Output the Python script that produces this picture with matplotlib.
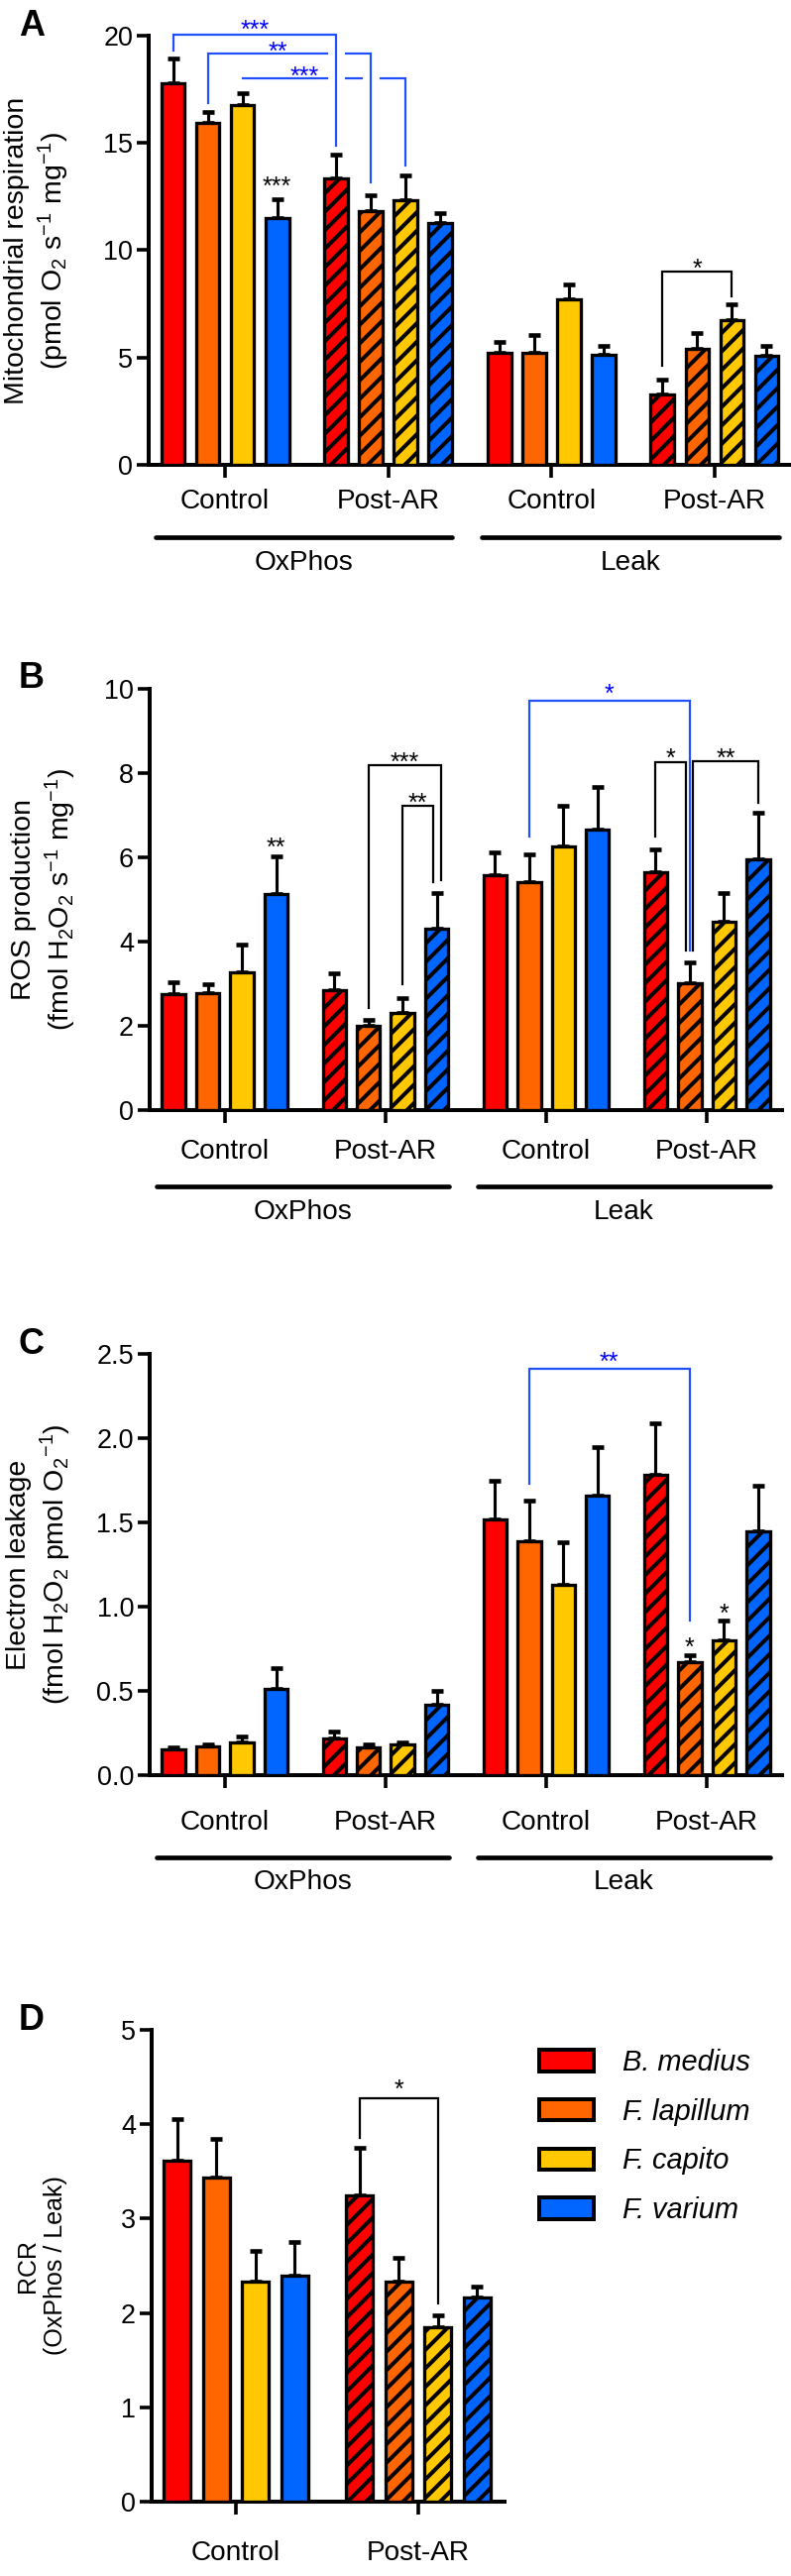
import matplotlib
matplotlib.use('Agg')
import matplotlib.pyplot as plt
from matplotlib.patches import Patch
from matplotlib.transforms import blended_transform_factory

DPI = 112
W, H = 798, 2599
PT = 72.0 / DPI  # points per pixel


def px(v):
    return v * PT


plt.rcParams['font.family'] = ['Liberation Sans', 'DejaVu Sans']
plt.rcParams['mathtext.fontset'] = 'custom'
plt.rcParams['mathtext.rm'] = 'Liberation Sans'
plt.rcParams['mathtext.default'] = 'regular'
plt.rcParams['hatch.linewidth'] = px(4.0)

# species / groups
species = ['B. medius', 'F. lapillum', 'F. capito', 'F. varium']
colors = ['#ff0000', '#ff6600', '#ffc800', '#0066ff']
group_names = ['Control', 'Post-AR', 'Control', 'Post-AR']
state_names = ['OxPhos', 'Leak']

# A - mitochondrial respiration (rows: OxPhos ctrl, OxPhos post, Leak ctrl, Leak post)
resp_mean = [[17.8, 15.93, 16.75, 11.48],
             [13.33, 11.82, 12.31, 11.29],
             [5.23, 5.23, 7.70, 5.14],
             [3.28, 5.41, 6.76, 5.07]]
resp_sem = [[1.15, 0.50, 0.55, 0.89],
            [1.15, 0.74, 1.19, 0.43],
            [0.52, 0.80, 0.70, 0.40],
            [0.71, 0.75, 0.70, 0.47]]

# B - ROS production
ros_mean = [[2.75, 2.78, 3.27, 5.14],
            [2.85, 1.99, 2.31, 4.31],
            [5.58, 5.41, 6.26, 6.65],
            [5.65, 3.01, 4.47, 5.95]]
ros_sem = [[0.29, 0.22, 0.65, 0.88],
           [0.39, 0.14, 0.36, 0.85],
           [0.54, 0.67, 0.96, 1.02],
           [0.55, 0.49, 0.69, 1.11]]

# C - electron leakage
leak_mean = [[0.153, 0.171, 0.196, 0.514],
             [0.220, 0.163, 0.182, 0.420],
             [1.52, 1.39, 1.13, 1.66],
             [1.78, 0.673, 0.80, 1.45]]
leak_sem = [[0.014, 0.010, 0.034, 0.123],
            [0.040, 0.017, 0.014, 0.080],
            [0.23, 0.24, 0.25, 0.29],
            [0.31, 0.037, 0.12, 0.27]]

# D - RCR
rcr_mean = [[3.61, 3.44, 2.33, 2.40],
            [3.25, 2.33, 1.85, 2.16]]
rcr_sem = [[0.44, 0.40, 0.33, 0.35],
           [0.50, 0.25, 0.12, 0.12]]

BLUE_LINE = '#1f4fff'
BLUE_TXT = '#0000ff'

# brackets: (group_a, sp_a, dx_a, group_b, sp_b, dx_b, top, end_a, end_b, label, text_x_shift, text_y, color, gaps)
sig_A = [(0, 0, 0, 1, 0, 0, 20.06, 19.3, 14.85, '***', 0.0, 20.6, 'b', []),
         (0, 1, 0, 1, 1, 0, 19.15, 16.86, 13.15, '**', -0.34, 19.57, 'b', [(1, 0)]),
         (0, 2, 0, 1, 2, 0, 18.0, 18.0, 13.95, '***', -0.55, 18.4, 'b', [(1, 0), (1, 1)]),
         (3, 0, 0, 3, 2, 0, 9.0, 4.64, 7.86, '*', 0.0, 9.43, 'k', [])]
star_A = [(0, 3, '***', 13.3)]

sig_B = [(1, 1, 0, 1, 3, 0.12, 8.19, 2.43, 5.45, '***', 0.0, 8.42, 'k', []),
         (1, 2, 0, 1, 3, -0.1, 7.22, 2.98, 5.41, '**', 0.0, 7.45, 'k', []),
         (2, 1, 0, 3, 1, 0, 9.72, 6.5, 3.8, '*', 0.0, 10.04, 'b', []),
         (3, 0, 0, 3, 1, -0.1, 8.26, 6.5, 3.8, '*', 0.0, 8.5, 'k', []),
         (3, 1, 0.1, 3, 3, 0, 8.28, 3.8, 7.3, '**', 0.0, 8.5, 'k', [])]
star_B = [(0, 3, '**', 6.39)]

sig_C = [(2, 1, 0, 3, 1, 0, 2.41, 1.73, 0.918, '**', 0.0, 2.49, 'b', [])]
star_C = [(3, 1, '*', 0.80), (3, 2, '*', 1.0)]

sig_D = [(1, 0, 0, 1, 2, 0, 4.28, 3.86, 2.1, '*', 0.0, 4.44, 'k', [])]
star_D = []

fig = plt.figure(figsize=(W / DPI, H / DPI), dpi=DPI)

STAR_FS = px(25)
TICK_FS = px(27)
LAB_FS = px(28)


def bar_x(g, i, gap):
    return g * gap + i - 1.5


def draw_panel(letter, L, R, top_px, zero_px, ymax, yticks, means, sems, gap, xlim,
               ylabel, ylab_x, ylab_fs, sigs, stars, lab_off, line_off, state_off, fmt=None):
    ax = fig.add_axes([L / W, 1 - zero_px / H, (R - L) / W, (zero_px - top_px) / H])
    hpx = zero_px - top_px
    ng = len(means)
    for g in range(ng):
        for i in range(4):
            x = bar_x(g, i, gap)
            ax.bar(x, means[g][i], width=0.68, color=colors[i], edgecolor='k',
                   linewidth=px(3.3), hatch='//' if g % 2 else None, zorder=3)
            ax.errorbar(x, means[g][i], yerr=[[0], [sems[g][i]]], fmt='none', ecolor='k',
                        elinewidth=px(3.1), capsize=px(5.5), capthick=px(4.6), zorder=2)
    ax.set_xlim(*xlim)
    ax.set_ylim(0, ymax)
    ax.set_yticks(yticks)
    if fmt:
        ax.set_yticklabels([fmt % t for t in yticks])
    centers = [g * gap for g in range(ng)]
    ax.set_xticks(centers)
    ax.set_xticklabels([])
    for s in ['top', 'right']:
        ax.spines[s].set_visible(False)
    for s in ['left', 'bottom']:
        ax.spines[s].set_linewidth(px(4.0))
    ax.tick_params(axis='y', direction='out', length=px(12), width=px(3.6),
                   labelsize=TICK_FS, pad=px(4))
    ax.tick_params(axis='x', direction='out', length=px(13), width=px(3.6))
    ax.patch.set_alpha(0)

    tr = blended_transform_factory(ax.transData, ax.transAxes)
    for g in range(ng):
        ax.text(centers[g], -lab_off / hpx, group_names[g], transform=tr,
                ha='center', va='center', fontsize=LAB_FS)
    if state_off is not None:
        for k in range(2):
            x0 = centers[2 * k] - 2.0
            x1 = centers[2 * k + 1] + 1.85
            ax.plot([x0, x1], [-line_off / hpx] * 2, color='k', lw=px(4.7),
                    solid_capstyle='round', transform=tr, clip_on=False)
            ax.text((x0 + x1) / 2, -state_off / hpx, state_names[k], transform=tr,
                    ha='center', va='center', fontsize=LAB_FS)

    for (ga, sa, dxa, gb, sb, dxb, topv, ea, eb, lab, tx, ty, col, gaps) in sigs:
        xa = bar_x(ga, sa, gap) + dxa
        xb = bar_x(gb, sb, gap) + dxb
        lc = BLUE_LINE if col == 'b' else 'k'
        tc = BLUE_TXT if col == 'b' else 'k'
        cuts = []
        for (gg, ss) in gaps:
            gx = bar_x(gg, ss, gap)
            cuts += [gx - 0.27, gx + 0.27]
        pts = [xa] + cuts + [xb]
        segs = list(zip(pts[0::2], pts[1::2]))
        for n, (s0, s1) in enumerate(segs):
            xs = [s0, s1]
            ys = [topv, topv]
            if n == 0:
                xs = [xa] + xs
                ys = [ea] + ys
            if n == len(segs) - 1:
                xs = xs + [xb]
                ys = ys + [eb]
            ax.plot(xs, ys, color=lc, lw=px(2.2), clip_on=False, zorder=4,
                    solid_joinstyle='miter')
        ax.annotate(lab, xy=((xa + xb) / 2 + tx, ty), xytext=(0, -0.58 * STAR_FS),
                    textcoords='offset points', ha='center', va='baseline',
                    fontsize=STAR_FS, color=tc, annotation_clip=False)
    for (g, i, lab, ty) in stars:
        ax.annotate(lab, xy=(bar_x(g, i, gap), ty), xytext=(0, -0.58 * STAR_FS),
                    textcoords='offset points', ha='center', va='baseline',
                    fontsize=STAR_FS, color='k', annotation_clip=False)

    fig.text(32 / W, 1 - (top_px - 10) / H, letter, fontsize=px(36), weight='bold',
             ha='center', va='center')
    fig.text(ylab_x / W, 1 - (top_px + zero_px) / 2 / H, ylabel, rotation=90,
             ha='center', va='center', multialignment='center', fontsize=ylab_fs,
             linespacing=1.25)
    return ax


GAP = 4.7
draw_panel('A', 150, 798, 36, 469, 20, [0, 5, 10, 15, 20], resp_mean, resp_sem, GAP,
           (-2.2, 3 * GAP + 2.2),
           'Mitochondrial respiration\n(pmol O$_2$ s$^{-1}$ mg$^{-1}$)', 38, px(28.5),
           sig_A, star_A, 37, 73, 99)
draw_panel('B', 151, 789, 695, 1120, 10, [0, 2, 4, 6, 8, 10], ros_mean, ros_sem, GAP,
           (-2.2, 3 * GAP + 2.2),
           'ROS production\n(fmol H$_2$O$_2$ s$^{-1}$ mg$^{-1}$)', 45, px(28.5),
           sig_B, star_B, 42, 77, 103)
draw_panel('C', 151, 789, 1366, 1791, 2.5, [0, 0.5, 1.0, 1.5, 2.0, 2.5], leak_mean, leak_sem, GAP,
           (-2.2, 3 * GAP + 2.2),
           'Electron leakage\n(fmol H$_2$O$_2$ pmol O$_2$$^{-1}$)', 40, px(28.5),
           sig_C, star_C, 48, 83, 108, fmt='%.1f')
GAP_D = 4.65
draw_panel('D', 153, 509, 2048, 2524, 5, [0, 1, 2, 3, 4, 5], rcr_mean, rcr_sem, GAP_D,
           (-2.15, GAP_D + 2.2),
           'RCR\n(OxPhos / Leak)', 42, px(25),
           sig_D, star_D, 52, None, None)

handles = [Patch(facecolor=c, edgecolor='k', linewidth=px(4.0)) for c in colors]
fig.legend(handles, species, loc='upper left', bbox_to_anchor=(544 / W, 1 - 2067 / H),
           frameon=False, prop={'style': 'italic', 'size': px(29)}, handlelength=1.9,
           handleheight=0.76, handletextpad=1.0, labelspacing=0.75,
           borderpad=0, borderaxespad=0)

fig.savefig('out.png', dpi=DPI)
